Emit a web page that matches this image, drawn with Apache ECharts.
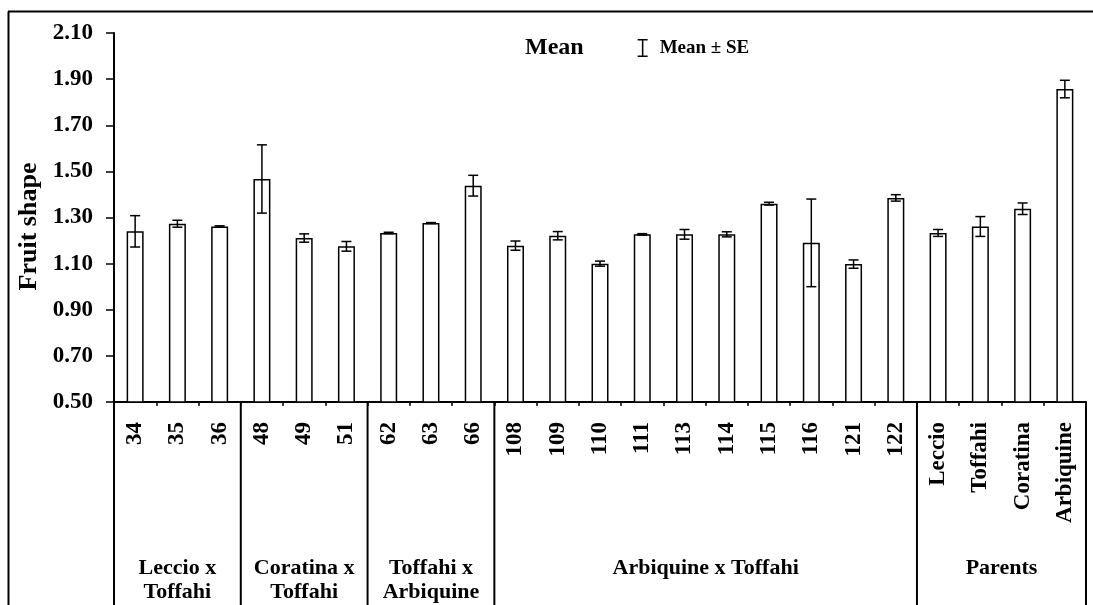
<!DOCTYPE html>
<html><head><meta charset="utf-8">
<script src="https://cdn.jsdelivr.net/npm/echarts@6/dist/echarts.min.js"></script>
<style>html,body{margin:0;padding:0;background:#fff}#c{width:1093px;height:605px}</style>
</head><body><div id="c"></div>
<script>
const categories = ['34','35','36','48','49','51','62','63','66','108','109','110','111','113','114','115','116','121','122','Leccio','Toffahi','Coratina','Arbiquine'];
const means = [1.240,1.273,1.261,1.467,1.211,1.175,1.233,1.276,1.438,1.178,1.221,1.100,1.227,1.227,1.227,1.360,1.190,1.098,1.385,1.233,1.261,1.338,1.857];
const se = [0.068,0.015,0.003,0.148,0.018,0.021,0.003,0.002,0.045,0.020,0.018,0.011,0.003,0.021,0.011,0.006,0.190,0.018,0.014,0.015,0.043,0.025,0.038];
const groupNames = [['Leccio x','Toffahi'],['Coratina x','Toffahi'],['Toffahi x','Arbiquine'],['Arbiquine x Toffahi'],['Parents']];
const groupSizes = [3,3,3,10,4];
const yMin = 0.5, yMax = 2.1, yStep = 0.2;

const FONT = "'Liberation Serif', 'Times New Roman', serif";
const chart = echarts.init(document.getElementById('c'));

chart.setOption({
  animation: false,
  backgroundColor: '#fff',
  grid: { left: 114, right: 7, top: 33, bottom: 203, containLabel: false },
  legend: {
    left: 502, top: 31, itemWidth: 12, itemHeight: 18, itemGap: 54,
    selectedMode: false,
    textStyle: { fontFamily: FONT, fontWeight: 'bold', color: '#000' },
    data: [
      { name: 'Mean', icon: 'rect', itemStyle: { opacity: 0 }, textStyle: { fontSize: 24, fontFamily: FONT, fontWeight: 'bold', color: '#000' } },
      { name: 'Mean ± SE', icon: 'path://M0,0h10v1.5h-10z M4.25,0h1.5v18h-1.5z M0,16.5h10v1.5h-10z', itemStyle: { color: '#000' }, textStyle: { fontSize: 19, fontFamily: FONT, fontWeight: 'bold', color: '#000', padding: [0, 0, 0, 6] } }
    ]
  },
  xAxis: {
    type: 'category', data: categories,
    axisLine: { lineStyle: { color: '#000', width: 2 } },
    axisTick: { show: true, length: 4, lineStyle: { color: '#000', width: 1.5 } },
    axisLabel: { rotate: 90, margin: 20, interval: 0, color: '#000', fontFamily: FONT, fontWeight: 'bold', fontSize: 23 }
  },
  yAxis: {
    type: 'value', min: yMin, max: yMax, interval: yStep,
    name: 'Fruit shape', nameLocation: 'middle', nameGap: 70,
    nameTextStyle: { fontFamily: FONT, fontWeight: 'bold', fontSize: 26, color: '#000', padding: [0, 18, 0, 0] },
    axisLine: { show: true, lineStyle: { color: '#000', width: 2 } },
    axisTick: { show: true, length: 8, lineStyle: { color: '#000', width: 1.5 } },
    splitLine: { show: false },
    axisLabel: { margin: 21, color: '#000', fontFamily: FONT, fontWeight: 'bold', fontSize: 23, formatter: v => v.toFixed(2) }
  },
  series: [
    {
      name: 'Mean', type: 'bar', data: means, barWidth: 17,
      itemStyle: { color: '#fff', borderColor: '#000', borderWidth: 1.5 }
    },
    {
      name: 'Mean ± SE', type: 'custom', itemStyle: { color: '#000' },
      data: means.map((m, i) => [i, m - se[i], m + se[i]]),
      encode: { x: 0, y: [1, 2] },
      renderItem: function (params, api) {
        const i = api.value(0);
        const lo = api.coord([i, api.value(1)]);
        const hi = api.coord([i, api.value(2)]);
        const h = 5;
        const st = { stroke: '#000', lineWidth: 1.5 };
        return { type: 'group', children: [
          { type: 'line', shape: { x1: lo[0], y1: lo[1], x2: hi[0], y2: hi[1] }, style: st },
          { type: 'line', shape: { x1: hi[0] - h, y1: hi[1], x2: hi[0] + h, y2: hi[1] }, style: st },
          { type: 'line', shape: { x1: lo[0] - h, y1: lo[1], x2: lo[0] + h, y2: lo[1] }, style: st }
        ]};
      },
      z: 5
    }
  ]
});

// group separators and group labels, positioned through the axis scales
const centers = categories.map((c, i) => chart.convertToPixel({ xAxisIndex: 0 }, i));
const step = centers[1] - centers[0];
const boundary = k => centers[0] - step / 2 + k * step;
const yAxisPx = chart.convertToPixel({ yAxisIndex: 0 }, yMin);
const H = chart.getHeight();
const W = chart.getWidth();
const graphics = [];
// outer frame
graphics.push({ type: 'line', shape: { x1: 8, y1: 11.5, x2: W, y2: 11.5 }, style: { stroke: '#000', lineWidth: 2 } });
graphics.push({ type: 'line', shape: { x1: 8.5, y1: 11.5, x2: 8.5, y2: H }, style: { stroke: '#000', lineWidth: 2 } });
let k = 0;
const bounds = [0];
groupSizes.forEach(s => { k += s; bounds.push(k); });
bounds.forEach(b => {
  const x = boundary(b);
  graphics.push({ type: 'line', shape: { x1: x, y1: yAxisPx, x2: x, y2: H }, style: { stroke: '#000', lineWidth: 2 } });
});
groupNames.forEach((lines, g) => {
  const cx = (boundary(bounds[g]) + boundary(bounds[g + 1])) / 2;
  lines.forEach((t, j) => {
    graphics.push({ type: 'text', x: cx, y: 568 + j * 24, style: { text: t, fill: '#000', font: "bold 22px 'Liberation Serif', 'Times New Roman', serif", textAlign: 'center', textVerticalAlign: 'middle' } });
  });
});
chart.setOption({ graphic: graphics });
</script>
</body></html>
